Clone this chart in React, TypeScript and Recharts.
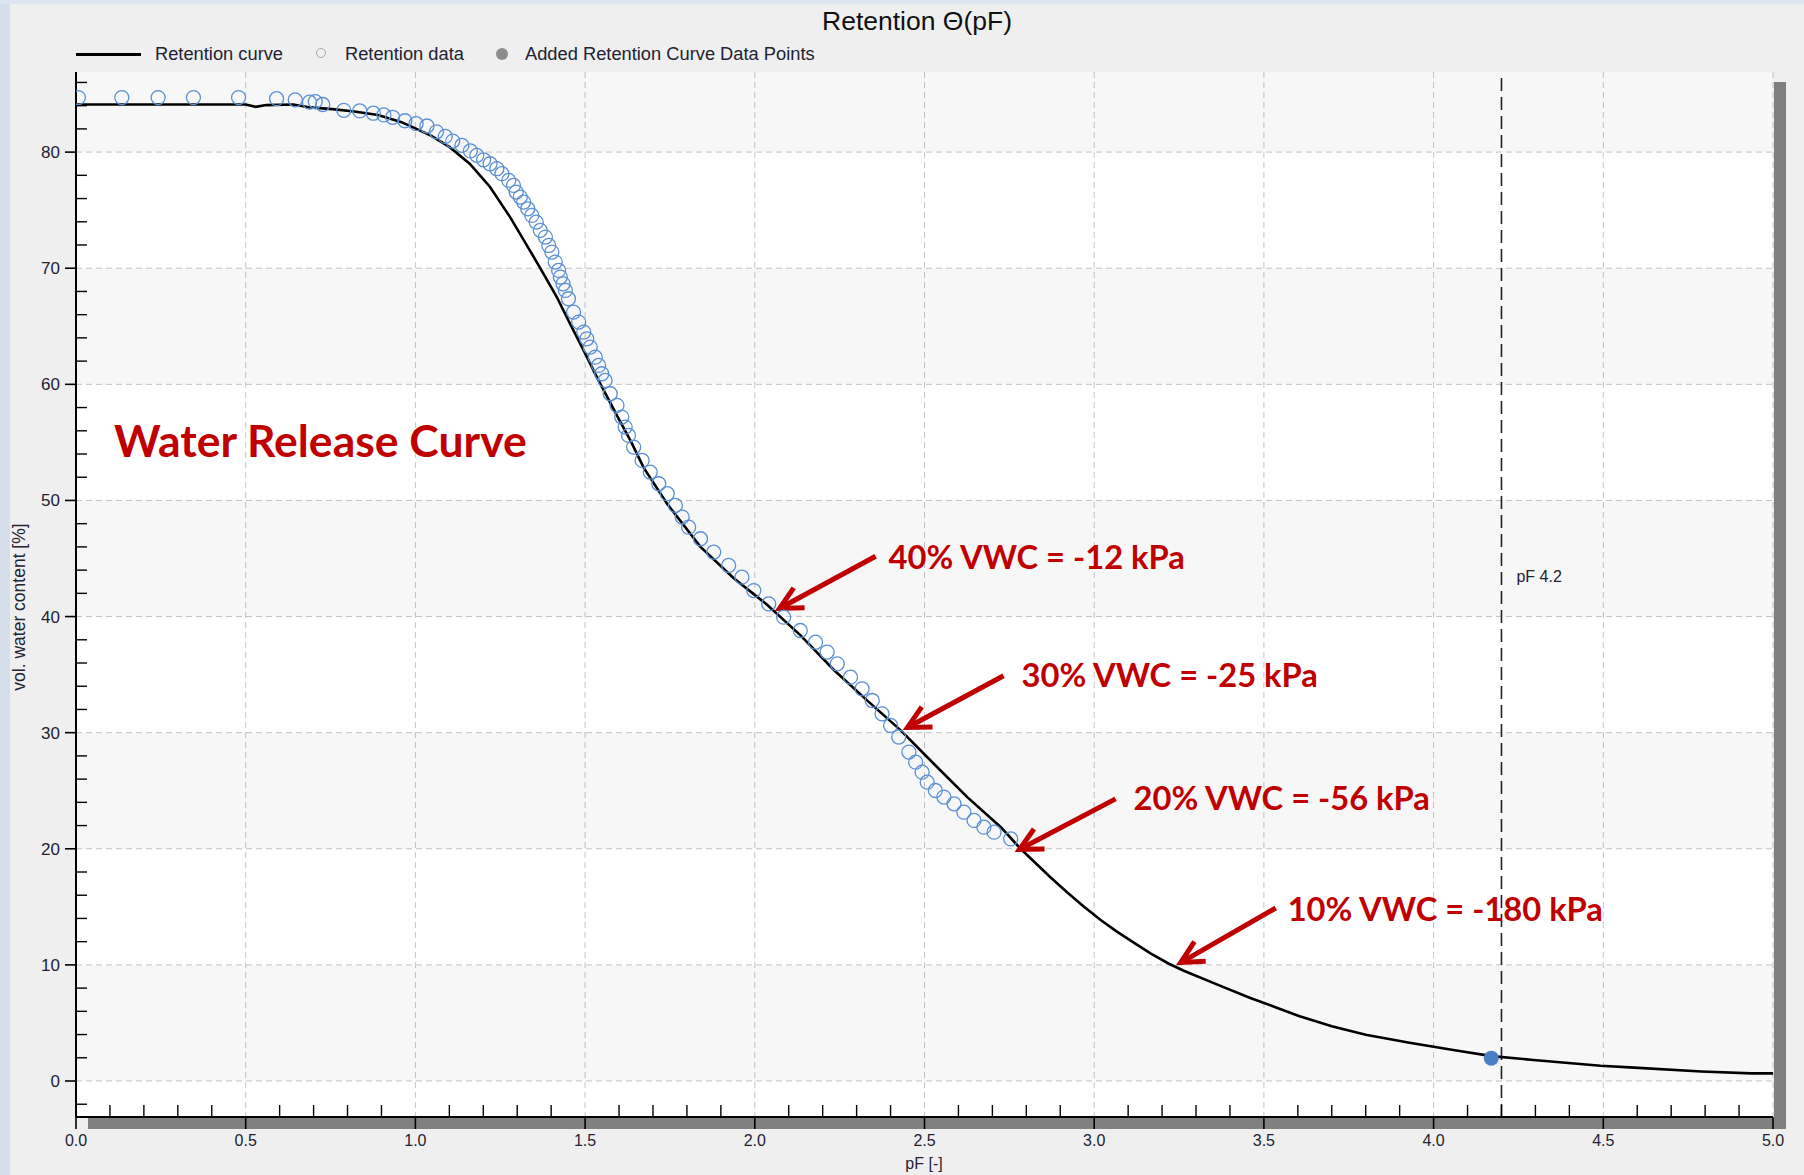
import React from 'react';
import {
  ComposedChart,
  Line,
  Scatter,
  XAxis,
  YAxis,
  CartesianGrid,
  ReferenceLine,
  ReferenceArea,
  ReferenceDot,
} from 'recharts';

// ---------- data ----------
const curvePF = [0, 0.5, 0.53, 0.56, 0.64, 0.69, 0.755, 0.82, 0.89, 0.957, 1.0, 1.047, 1.1, 1.16, 1.22, 1.279, 1.338, 1.378, 1.417, 1.456, 1.496, 1.535, 1.594, 1.633, 1.673, 1.742, 1.84, 1.938, 2.037, 2.134, 2.233, 2.33, 2.43, 2.528, 2.626, 2.725, 2.783, 2.871, 2.92, 2.97, 3.02, 3.068, 3.12, 3.166, 3.22, 3.264, 3.363, 3.46, 3.53, 3.603, 3.7, 3.8, 3.929, 4.067, 4.171, 4.294, 4.492, 4.591, 4.789, 4.937, 5.0];
const curveTheta = [84.1, 84.1, 83.9, 84.05, 84.1, 83.85, 83.7, 83.5, 83.2, 82.6, 82.05, 81.4, 80.45, 79.0, 77.0, 74.4, 71.5, 69.5, 67.5, 65.2, 62.9, 60.6, 57.3, 55.2, 52.8, 49.7, 46.0, 43.3, 41.0, 38.4, 35.4, 32.8, 30.2, 27.3, 24.45, 21.86, 20.0, 17.55, 16.25, 15.0, 13.85, 12.85, 11.85, 11.0, 10.1, 9.5, 8.3, 7.15, 6.4, 5.6, 4.72, 3.98, 3.29, 2.63, 2.14, 1.81, 1.32, 1.15, 0.82, 0.66, 0.66];

const measuredPF = [0.007, 0.135, 0.242, 0.346, 0.479, 0.591, 0.646, 0.688, 0.705, 0.727, 0.789, 0.836, 0.876, 0.907, 0.933, 0.969, 1.002, 1.034, 1.062, 1.088, 1.11, 1.137, 1.162, 1.181, 1.201, 1.22, 1.24, 1.255, 1.275, 1.289, 1.297, 1.309, 1.319, 1.331, 1.343, 1.356, 1.368, 1.383, 1.393, 1.402, 1.412, 1.422, 1.427, 1.435, 1.442, 1.451, 1.466, 1.481, 1.496, 1.505, 1.515, 1.53, 1.54, 1.549, 1.559, 1.574, 1.594, 1.608, 1.618, 1.628, 1.643, 1.668, 1.692, 1.717, 1.742, 1.766, 1.786, 1.805, 1.84, 1.879, 1.923, 1.962, 1.997, 2.041, 2.085, 2.134, 2.179, 2.213, 2.243, 2.282, 2.316, 2.346, 2.375, 2.4, 2.424, 2.454, 2.474, 2.493, 2.508, 2.532, 2.557, 2.587, 2.616, 2.646, 2.675, 2.705, 2.754];
const measuredTheta = [84.7, 84.7, 84.7, 84.7, 84.7, 84.6, 84.5, 84.3, 84.35, 84.1, 83.6, 83.55, 83.35, 83.2, 83.0, 82.7, 82.45, 82.25, 81.75, 81.35, 80.95, 80.58, 80.1, 79.72, 79.34, 79.0, 78.57, 78.14, 77.56, 77.13, 76.56, 76.13, 75.7, 75.12, 74.55, 73.97, 73.26, 72.68, 71.96, 71.39, 70.53, 69.81, 69.24, 68.66, 68.09, 67.37, 66.22, 65.36, 64.5, 63.92, 63.21, 62.34, 61.63, 60.91, 60.34, 59.19, 58.19, 57.18, 56.32, 55.6, 54.6, 53.45, 52.44, 51.44, 50.58, 49.57, 48.57, 47.7, 46.7, 45.55, 44.4, 43.39, 42.24, 41.09, 39.95, 38.8, 37.79, 36.94, 35.93, 34.78, 33.78, 32.77, 31.62, 30.62, 29.62, 28.33, 27.46, 26.6, 25.74, 25.02, 24.45, 23.87, 23.15, 22.44, 21.86, 21.43, 20.85];

const addedPF = [4.17];
const addedTheta = [1.97];

const xMajorTicks = [0, 0.5, 1, 1.5, 2, 2.5, 3, 3.5, 4, 4.5, 5];
const xMinorTicks = [0.1, 0.2, 0.3, 0.4, 0.6, 0.7, 0.8, 0.9, 1.1, 1.2, 1.3, 1.4, 1.6, 1.7, 1.8, 1.9, 2.1, 2.2, 2.3, 2.4, 2.6, 2.7, 2.8, 2.9, 3.1, 3.2, 3.3, 3.4, 3.6, 3.7, 3.8, 3.9, 4.1, 4.2, 4.3, 4.4, 4.6, 4.7, 4.8, 4.9];
const yMajorTicks = [0, 10, 20, 30, 40, 50, 60, 70, 80];
const yMinorTicks = [-2, 2, 4, 6, 8, 12, 14, 16, 18, 22, 24, 26, 28, 32, 34, 36, 38, 42, 44, 46, 48, 52, 54, 56, 58, 62, 64, 66, 68, 72, 74, 76, 78, 82, 84, 86];

const yDomain = [-3.1, 86.9];
const bandStarts = [0, 20, 40, 60, 80];
const bandEnds = [10, 30, 50, 70, 86.9];

const pfLine = 4.2;
const pfLineLabel = 'pF 4.2';
const pfLineLabelTheta = 43.0;

const noteTexts = ['40% VWC = -12 kPa', '30% VWC = -25 kPa', '20% VWC = -56 kPa', '10% VWC = -180 kPa'];
const notePF = [2.394, 2.786, 3.116, 3.57];
const noteTheta = [44.1, 33.9, 23.3, 13.8];

const arrowFromPF = [2.356, 2.733, 3.063, 3.535];
const arrowFromTheta = [45.2, 34.9, 24.3, 14.9];
const arrowToPF = [2.073, 2.45, 2.78, 3.255];
const arrowToTheta = [40.7, 30.45, 19.95, 10.2];

const headline = 'Water Release Curve';
const headlinePF = 0.112;
const headlineTheta = 53.7;

const title = 'Retention \u0398(pF)';
const legendNames = ['Retention curve', 'Retention data', 'Added Retention Curve Data Points'];
const xTitle = 'pF [-]';
const yTitle = 'vol. water content [%]';

// ---------- built tables ----------
const curveData = curvePF.map((p, i) => ({ pF: p, theta: curveTheta[i] }));
const measuredData = measuredPF.map((p, i) => ({ pF: p, theta: measuredTheta[i] }));
const addedData = addedPF.map((p, i) => ({ pF: p, theta: addedTheta[i] }));
const xAllTicks = [...xMajorTicks, ...xMinorTicks].sort((a, b) => a - b);
const yAllTicks = [...yMajorTicks, ...yMinorTicks].sort((a, b) => a - b);

const W = 1804;
const H = 1175;
const RED = '#c00000';
const TEXT = '#222233';
const SANS = "'Liberation Sans', Arial, sans-serif";
const NARROW = "'Liberation Sans Narrow', 'Arial Narrow', 'Liberation Sans', sans-serif";
const BOLD = "Lato, 'Open Sans', sans-serif";

const XTick = (props: any) => {
  const { x, y, payload } = props;
  const v = payload.value;
  if (xMajorTicks.includes(v)) {
    return (
      <g>
        <line x1={x} x2={x} y1={y} y2={y + 12} stroke="#000" strokeWidth={1.6} />
        <text x={x} y={y + 29} textAnchor="middle" fontSize={16} fontFamily={NARROW} fill={TEXT}>
          {v.toFixed(1)}
        </text>
      </g>
    );
  }
  return <line x1={x} x2={x} y1={y} y2={y - 12} stroke="#000" strokeWidth={1.4} />;
};

const YTick = (props: any) => {
  const { x, y, payload } = props;
  const v = payload.value;
  if (yMajorTicks.includes(v)) {
    return (
      <g>
        <line x1={x - 11} x2={x} y1={y} y2={y} stroke="#000" strokeWidth={1.6} />
        <text x={x - 16} y={y + 6} textAnchor="end" fontSize={17} fontFamily={SANS} fill={TEXT}>
          {v}
        </text>
      </g>
    );
  }
  return <line x1={x} x2={x + 11} y1={y} y2={y} stroke="#000" strokeWidth={1.4} />;
};

const Arrow = (props: any) => {
  const { x1, y1, x2, y2 } = props;
  const ang = Math.atan2(y1 - y2, x1 - x2);
  const len = 25;
  const spread = (27 * Math.PI) / 180;
  const ax = x2 + len * Math.cos(ang + spread);
  const ay = y2 + len * Math.sin(ang + spread);
  const bx = x2 + len * Math.cos(ang - spread);
  const by = y2 + len * Math.sin(ang - spread);
  return (
    <g>
      <line x1={x1} y1={y1} x2={x2 + 3 * Math.cos(ang)} y2={y2 + 3 * Math.sin(ang)} stroke={RED} strokeWidth={5} />
      <polyline points={`${ax},${ay} ${x2},${y2} ${bx},${by}`} fill="none" stroke={RED} strokeWidth={5} strokeLinejoin="miter" strokeMiterlimit={10} />
    </g>
  );
};

const makeText = (txt: string, size: number, color: string, family: string, weight: string | number, dx = 0) =>
  (p: any) => (
    <text x={p.cx + dx} y={p.cy} fontSize={size} fill={color} fontFamily={family} fontWeight={weight}>
      {txt}
    </text>
  );

const OpenCircle = (p: any) => (
  <circle cx={p.cx} cy={p.cy} r={7} fill="none" stroke="#5b8fd3" strokeWidth={1.3} />
);
const FilledCircle = (p: any) => <circle cx={p.cx} cy={p.cy} r={7.5} fill="#4a7fc4" />;

export default function App() {
  return (
    <div style={{ position: 'absolute', left: 0, top: 0, width: W, height: H, background: '#efefef', overflow: 'hidden', fontFamily: SANS }}>
      <div style={{ position: 'absolute', left: 0, top: 0, width: 10, height: H, background: '#d5deea' }} />
      <div style={{ position: 'absolute', left: 0, top: 0, width: W, height: 4, background: '#dce5f0' }} />
      <div style={{ position: 'absolute', left: 88, top: 1118, width: 1698, height: 11, background: '#808080' }} />
      <div style={{ position: 'absolute', left: 1774, top: 82, width: 12, height: 1047, background: '#808080' }} />

      <div style={{ position: 'absolute', left: 0, top: 0 }}>
        <ComposedChart width={W} height={H} margin={{ top: 72, right: 31, bottom: 0, left: 0 }}>
          <CartesianGrid
            fill="#ffffff"
            stroke="#c6c6c6"
            strokeDasharray="6 4"
            horizontalValues={yMajorTicks}
            verticalValues={xMajorTicks}
          />
          {bandStarts.map((s, i) => (
            <ReferenceArea
              key={'band' + i}
              y1={s}
              y2={bandEnds[i]}
              fill="#000000"
              fillOpacity={0.03}
              stroke="none"
            />
          ))}
          <XAxis
            dataKey="pF"
            type="number"
            domain={[0, 5]}
            allowDataOverflow
            ticks={xAllTicks}
            interval={0}
            tickSize={0}
            tickMargin={0}
            tickLine={false}
            tick={<XTick />}
            height={58}
            axisLine={{ stroke: '#000', strokeWidth: 2 }}
          />
          <YAxis
            dataKey="theta"
            type="number"
            domain={yDomain}
            allowDataOverflow
            ticks={yAllTicks}
            interval={0}
            tickSize={0}
            tickMargin={0}
            tickLine={false}
            tick={<YTick />}
            width={76}
            axisLine={{ stroke: '#000', strokeWidth: 2 }}
          />
          <ReferenceLine x={pfLine} stroke="#222" strokeWidth={1.6} strokeDasharray="13 6" />
          <ReferenceDot x={pfLine} y={pfLineLabelTheta} r={0} shape={makeText(pfLineLabel, 16, TEXT, SANS, 'normal', 15)} />
          <Scatter data={measuredData} dataKey="theta" shape={<OpenCircle />} isAnimationActive={false} />
          <Line data={curveData} dataKey="theta" type="linear" stroke="#000" strokeWidth={2.6} dot={false} activeDot={false} isAnimationActive={false} />
          <Scatter data={addedData} dataKey="theta" shape={<FilledCircle />} isAnimationActive={false} />
          <ReferenceDot x={headlinePF} y={headlineTheta} r={0} shape={makeText(headline, 44.5, RED, BOLD, 700)} />
          {noteTexts.map((t, i) => (
            <ReferenceDot key={'note' + i} x={notePF[i]} y={noteTheta[i]} r={0} shape={makeText(t, 32.7, RED, BOLD, 700)} />
          ))}
          {arrowFromPF.map((f, i) => (
            <ReferenceLine
              key={'arrow' + i}
              segment={[
                { x: f, y: arrowFromTheta[i] },
                { x: arrowToPF[i], y: arrowToTheta[i] },
              ]}
              shape={<Arrow />}
            />
          ))}
          <ReferenceArea stroke="#000" strokeWidth={1.4} fill="none" fillOpacity={0} />
        </ComposedChart>
      </div>

      <div style={{ position: 'absolute', left: 0, width: 1834, top: 5, textAlign: 'center', fontSize: 26.5, color: '#111', lineHeight: '32px' }}>
        {title}
      </div>

      <div style={{ position: 'absolute', left: 76, top: 53, width: 65, height: 3, background: '#000' }} />
      <div style={{ position: 'absolute', left: 155, top: 43, fontSize: 18.3, lineHeight: '22px', color: TEXT, whiteSpace: 'nowrap' }}>{legendNames[0]}</div>
      <div style={{ position: 'absolute', left: 316, top: 48, width: 10, height: 10, border: '1px solid #a8a8a8', borderRadius: '50%', boxSizing: 'border-box' }} />
      <div style={{ position: 'absolute', left: 345, top: 43, fontSize: 18.3, lineHeight: '22px', color: TEXT, whiteSpace: 'nowrap' }}>{legendNames[1]}</div>
      <div style={{ position: 'absolute', left: 496, top: 48, width: 12, height: 12, background: '#8c8c8c', borderRadius: '50%' }} />
      <div style={{ position: 'absolute', left: 525, top: 43, fontSize: 18.3, lineHeight: '22px', color: TEXT, whiteSpace: 'nowrap' }}>{legendNames[2]}</div>

      <div style={{ position: 'absolute', left: 874, width: 100, top: 1154, textAlign: 'center', fontSize: 16, lineHeight: '20px', color: TEXT, fontFamily: NARROW }}>
        {xTitle}
      </div>
      <div style={{ position: 'absolute', left: 19, top: 607, width: 0, height: 0 }}>
        <div style={{ position: 'absolute', left: -150, top: -10, width: 300, textAlign: 'center', fontSize: 17.5, lineHeight: '20px', color: TEXT, transform: 'rotate(-90deg)', whiteSpace: 'nowrap' }}>
          {yTitle}
        </div>
      </div>
    </div>
  );
}
